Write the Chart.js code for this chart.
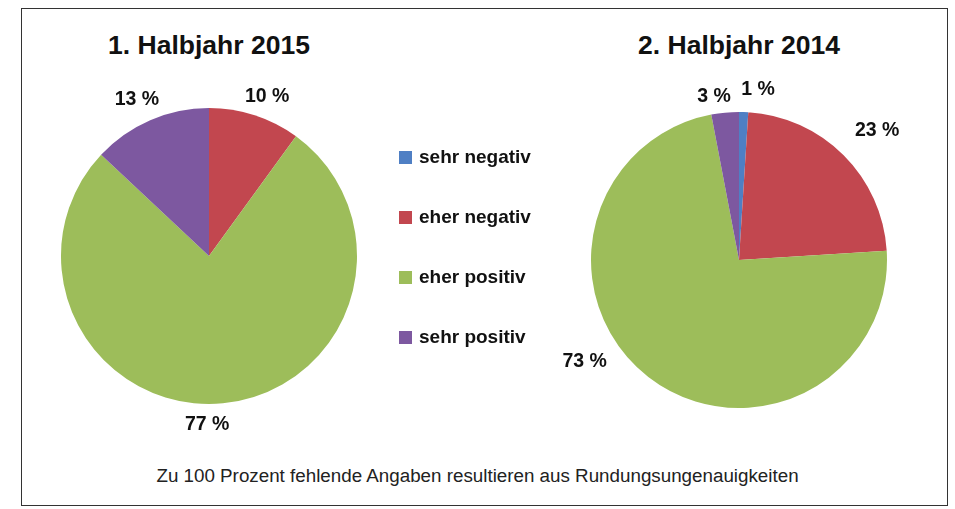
<!DOCTYPE html>
<html>
<head>
<meta charset="utf-8">
<script src="https://cdn.jsdelivr.net/npm/chart.js@4.4.1/dist/chart.umd.min.js"></script>
<style>
  body { margin: 0; background: #fff; font-family: "Liberation Sans", Arial, sans-serif; }
  #frame { position: absolute; left: 21px; top: 8px; width: 925px; height: 496px; border: 1.5px solid #333; }
  .box { position: absolute; width: 400px; height: 400px; }
  .title { position: absolute; font-weight: bold; font-size: 26.5px; color: #111; text-align: center; width: 400px; }
  #legend { position: absolute; left: 399px; top: 146px; }
  .item { height: 60px; font-weight: bold; font-size: 19px; color: #111; display: flex; align-items: flex-start; }
  .sw { width: 13px; height: 13px; margin: 5px 7px 0 0; }
  #note { position: absolute; left: 0; width: 955px; top: 465px; text-align: center; font-size: 18.8px; color: #222; }
</style>
</head>
<body>
<div id="frame"></div>
<div class="title" style="left:9px; top:30px;">1. Halbjahr 2015</div>
<div class="title" style="left:539px; top:30px;">2. Halbjahr 2014</div>
<div class="box" style="left:9px; top:56px;"><canvas id="pieLeft"></canvas></div>
<div class="box" style="left:539px; top:60px;"><canvas id="pieRight"></canvas></div>
<div id="legend"></div>
<div id="note">Zu 100 Prozent fehlende Angaben resultieren aus Rundungsungenauigkeiten</div>
<script>
var categories = ['sehr negativ', 'eher negativ', 'eher positiv', 'sehr positiv'];
var colors = ['#4f7fc4', '#c2474f', '#9dbd5a', '#7d58a0'];

var values2015 = [0, 10, 77, 13];   // 1. Halbjahr 2015
var values2014 = [1, 23, 73, 3];    // 2. Halbjahr 2014

// label placement: distance from centre and angle shift (degrees) per slice
var labelDist2015 = [170, 170, 169, 172];
var labelShift2015 = [0, 2, 6, -1.4];
var labelDist2014 = [171, 189, 185, 165];
var labelShift2014 = [4.6, 2, 18.7, -3.3];

// legend
var legend = document.getElementById('legend');
categories.forEach(function (c, i) {
    var row = document.createElement('div');
    row.className = 'item';
    row.innerHTML = '<span class="sw" style="background:' + colors[i] + '"></span>' + c;
    legend.appendChild(row);
});

var pctLabels = {
    id: 'pctLabels',
    afterDatasetsDraw: function (chart, args, opts) {
        var ctx = chart.ctx;
        var data = chart.data.datasets[0].data;
        ctx.save();
        ctx.font = 'bold 19.5px "Liberation Sans", Arial, sans-serif';
        ctx.fillStyle = '#111';
        ctx.textAlign = 'center';
        ctx.textBaseline = 'middle';
        chart.getDatasetMeta(0).data.forEach(function (arc, i) {
            if (!data[i]) return;
            var p = arc.getProps(['x', 'y', 'startAngle', 'endAngle'], true);
            var mid = (p.startAngle + p.endAngle) / 2 + opts.shift[i] * Math.PI / 180;
            var d = opts.dist[i];
            ctx.fillText(data[i] + ' %', p.x + Math.cos(mid) * d, p.y + Math.sin(mid) * d);
        });
        ctx.restore();
    }
};

function makePie(id, values, dist, shift) {
    return new Chart(document.getElementById(id).getContext('2d'), {
        type: 'pie',
        data: {
            labels: categories,
            datasets: [{
                data: values,
                backgroundColor: colors,
                borderWidth: 0
            }]
        },
        options: {
            responsive: true,
            maintainAspectRatio: false,
            animation: false,
            layout: { padding: 52 },
            plugins: {
                legend: { display: false },
                tooltip: { enabled: false },
                pctLabels: { dist: dist, shift: shift }
            }
        },
        plugins: [pctLabels]
    });
}

makePie('pieLeft', values2015, labelDist2015, labelShift2015);
makePie('pieRight', values2014, labelDist2014, labelShift2014);
</script>
</body>
</html>
